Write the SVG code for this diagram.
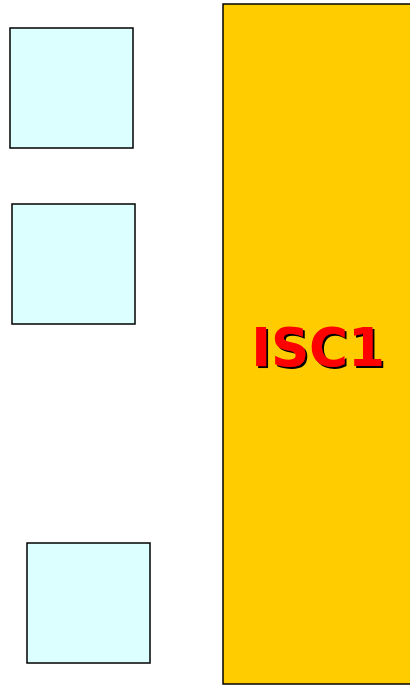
<svg xmlns="http://www.w3.org/2000/svg" width="410" height="685" viewBox="0 0 410 685">
<defs>
<filter id="shadow" x="-10%" y="-10%" width="120%" height="130%">
<feDropShadow dx="2" dy="2" stdDeviation="0" flood-color="#000"/>
</filter>
</defs>
<style>
.box{fill:#dcffff;stroke:#000;stroke-width:1.5}
.lbl{font-family:"DejaVu Sans",sans-serif;font-weight:bold;font-size:53px;text-anchor:middle}
</style>
<rect width="410" height="685" fill="#fff"/>
<g id="isc1">
<rect x="223" y="4" width="200" height="680" fill="#ffcc00" stroke="#000" stroke-width="1.5"/>
<text class="lbl" x="318" y="366" fill="#ff0000" filter="url(#shadow)">ISC1</text>
</g>
<g id="box1"><rect class="box" x="10" y="28" width="123" height="120"/></g>
<g id="box2"><rect class="box" x="12" y="204" width="123" height="120"/></g>
<g id="box3"><rect class="box" x="27" y="543" width="123" height="120"/></g>
<g id="connectors"/>
</svg>
